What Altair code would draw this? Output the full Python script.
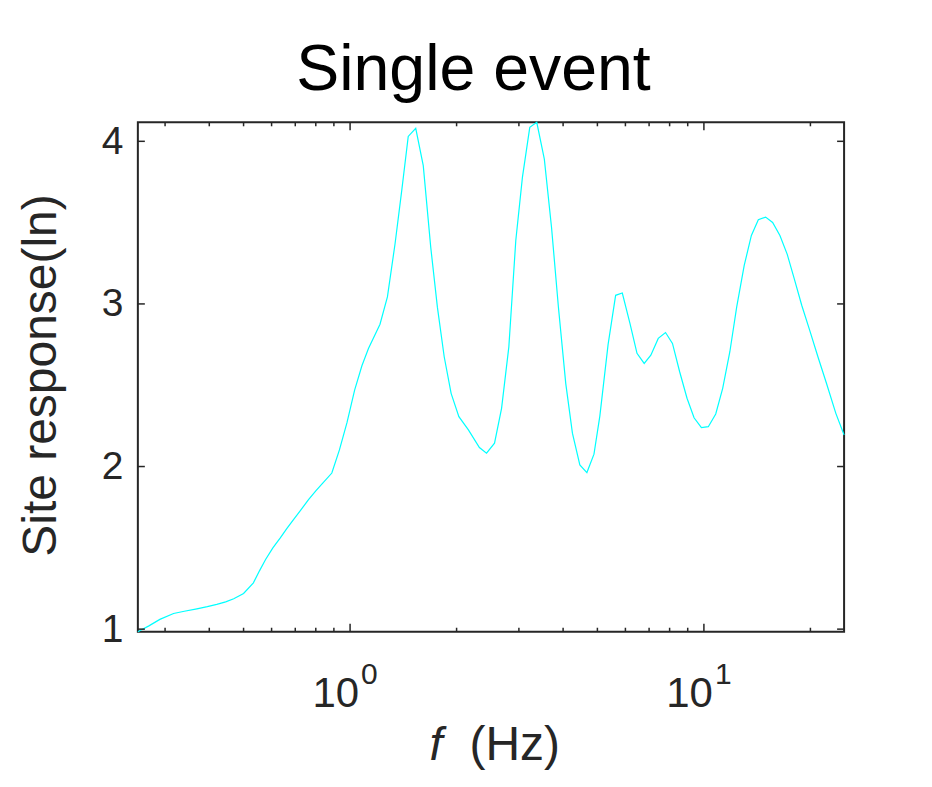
import altair as alt
import pandas as pd

# Frequency (Hz) and site response
freq = [0.2513, 0.27, 0.29, 0.317, 0.34, 0.369, 0.395, 0.42, 0.445, 0.469, 0.50,
        0.533, 0.555, 0.577, 0.605, 0.635, 0.663, 0.692, 0.727, 0.763, 0.80, 0.837,
        0.888, 0.933, 0.98, 1.03, 1.08, 1.127, 1.215, 1.275, 1.34, 1.40, 1.46, 1.533,
        1.61, 1.69, 1.765, 1.845, 1.93, 2.03, 2.16, 2.32, 2.43, 2.56, 2.68, 2.81, 2.94,
        3.07, 3.22, 3.37, 3.54, 3.71, 3.88, 4.07, 4.25, 4.46, 4.67, 4.89, 5.08, 5.36,
        5.63, 5.88, 6.18, 6.47, 6.78, 7.08, 7.43, 7.79, 8.15, 8.54, 8.96, 9.38, 9.84,
        10.29, 10.8, 11.3, 11.84, 12.38, 13.0, 13.62, 14.25, 14.94, 15.64, 16.4, 17.2,
        18.0, 18.9, 19.9, 21.0, 22.2, 23.6, 24.9]
resp = [0.984, 1.02, 1.06, 1.096, 1.11, 1.125, 1.138, 1.152, 1.168, 1.187, 1.219,
        1.285, 1.36, 1.428, 1.50, 1.561, 1.62, 1.673, 1.735, 1.796, 1.85, 1.898,
        1.960, 2.102, 2.27, 2.47, 2.62, 2.726, 2.875, 3.043, 3.37, 3.70, 4.03, 4.08,
        3.85, 3.35, 2.98, 2.675, 2.45, 2.307, 2.225, 2.117, 2.082, 2.144, 2.358, 2.736, 3.39,
        3.78, 4.086, 4.117, 3.89, 3.47, 2.98, 2.51, 2.205, 2.01, 1.963, 2.076, 2.31, 2.75,
        3.053, 3.067, 2.88, 2.696, 2.634, 2.685, 2.788, 2.824, 2.757, 2.583, 2.42, 2.30, 2.239,
        2.245, 2.323, 2.481, 2.706, 2.982, 3.237, 3.421, 3.518, 3.534, 3.501, 3.421, 3.305,
        3.156, 2.992, 2.839, 2.675, 2.512, 2.327, 2.194]

x_minor = [0.3, 0.4, 0.5, 0.6, 0.7, 0.8, 0.9, 2, 3, 4, 5, 6, 7, 8, 9, 20]
x_major = [1, 10]
x_base = ["10", "10"]
x_exp = ["0", "1"]
y_ticks = [1, 2, 3, 4]

title_text = "Single event"
y_title = "Site response(ln)"

W, H = 707, 510
FONT = "Liberation Sans"
AX = "#262626"

df = pd.DataFrame({"f": freq, "r": resp})
df_minor = pd.DataFrame({"f": x_minor})
df_major = pd.DataFrame({"f": x_major, "base": x_base, "exp": x_exp})
df_y = pd.DataFrame({"r": y_ticks})

xs = alt.Scale(type="log", domain=[min(freq), max(freq)], nice=False)
ys = alt.Scale(domain=[min(resp), max(resp)], nice=False, zero=False)

xenc = alt.X("f:Q", scale=xs, axis=None)
yaxis = alt.Axis(values=y_ticks, ticks=False, tickSize=0, domain=False, grid=False,
                 labelFontSize=39, labelFont=FONT, labelColor=AX, labelPadding=15,
                 title=y_title, titleFontSize=48, titleFont=FONT, titleColor=AX,
                 titleFontWeight="normal", titleAngle=270, titleBaseline="alphabetic",
                 titleX=-82, titleY=H / 2 - 2, titleAlign="center")
yenc = alt.Y("r:Q", scale=ys, axis=yaxis)

line = alt.Chart(df).mark_line(color="#00FFFF", strokeWidth=1.2).encode(x=xenc, y=yenc)

tick_style = dict(color=AX, strokeWidth=1.5)
minor_bot = alt.Chart(df_minor).mark_rule(**tick_style).encode(x=xenc, y=alt.value(H), y2=alt.value(H - 4))
minor_top = alt.Chart(df_minor).mark_rule(**tick_style).encode(x=xenc, y=alt.value(0), y2=alt.value(4))
major_bot = alt.Chart(df_major).mark_rule(**tick_style).encode(x=xenc, y=alt.value(H), y2=alt.value(H - 8))
major_top = alt.Chart(df_major).mark_rule(**tick_style).encode(x=xenc, y=alt.value(0), y2=alt.value(8))
y_left = alt.Chart(df_y).mark_rule(**tick_style).encode(y=yenc, x=alt.value(0), x2=alt.value(7))
y_right = alt.Chart(df_y).mark_rule(**tick_style).encode(y=yenc, x=alt.value(W), x2=alt.value(W - 7))

lab_base = alt.Chart(df_major).mark_text(align="right", baseline="alphabetic", fontSize=42,
                                          font=FONT, color=AX, dx=9).encode(
    x=xenc, y=alt.value(H + 75), text="base:N")
lab_exp = alt.Chart(df_major).mark_text(align="left", baseline="alphabetic", fontSize=30,
                                         font=FONT, color=AX, dx=11).encode(
    x=xenc, y=alt.value(H + 52), text="exp:N")

xt_f = alt.Chart(pd.DataFrame({"t": ["f"]})).mark_text(
    align="left", baseline="alphabetic", fontSize=47, font=FONT, fontStyle="italic", color=AX).encode(
    x=alt.value(292), y=alt.value(H + 128), text="t:N")
xt_hz = alt.Chart(pd.DataFrame({"t": ["(Hz)"]})).mark_text(
    align="left", baseline="alphabetic", fontSize=48, font=FONT, color=AX).encode(
    x=alt.value(332), y=alt.value(H + 128), text="t:N")
title = alt.Chart(pd.DataFrame({"t": [title_text]})).mark_text(
    align="center", baseline="alphabetic", fontSize=64.5, font=FONT, color="#000000").encode(
    x=alt.value(336), y=alt.value(-32), text="t:N")

chart = alt.layer(line, minor_bot, minor_top, major_bot, major_top, y_left, y_right,
                  lab_base, lab_exp, xt_f, xt_hz, title).properties(
    width=W, height=H,
    padding={"left": 130, "top": 114, "right": 80, "bottom": 147},
    autosize=alt.AutoSizeParams(type="none"),
    background="white",
).configure_view(stroke=AX, strokeWidth=2)

chart.save("out.html", embed_options={"renderer": "svg", "actions": False})
